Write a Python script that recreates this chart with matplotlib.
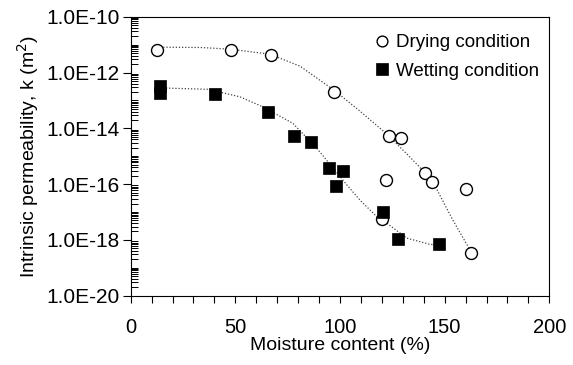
import numpy as np
import matplotlib
matplotlib.use("Agg")
import matplotlib.pyplot as plt
from matplotlib.ticker import FixedLocator, LogLocator, FuncFormatter, MultipleLocator, NullFormatter

plt.rcParams['font.family'] = ['Liberation Sans', 'DejaVu Sans']

# Data
dry_x = [12.4, 47.8, 66.9, 97.1, 123.4, 129.0, 121.8, 140.6, 143.8, 160.2, 119.9, 162.4]
dry_k = [6.4e-12, 6.4e-12, 4.3e-12, 2.0e-13, 5.4e-15, 4.4e-15, 1.4e-16, 2.6e-16, 1.2e-16, 6.5e-17, 5.5e-18, 3.5e-19]

wet_x = [14.0, 14.0, 40.3, 65.5, 78.2, 86.1, 94.9, 101.3, 97.9, 120.4, 127.6, 147.3]
wet_k = [3.2e-13, 1.8e-13, 1.7e-13, 3.7e-14, 5.4e-15, 3.2e-15, 3.7e-16, 3.0e-16, 8.5e-17, 9.8e-18, 1.1e-18, 6.9e-19]

# Trend lines
dry_fit_x = [12.6, 33.1, 47.4, 66.5, 80.9, 97.1, 109.5, 122.9, 133.4, 143.9, 153.9, 162.1]
dry_fit_logk = [-11.09, -11.10, -11.16, -11.34, -11.77, -12.63, -13.38, -14.24, -15.03, -15.85, -17.29, -18.36]

wet_fit_x = [13.9, 36.9, 52.2, 63.2, 77.5, 89.0, 96.2, 103.3, 109.5, 117.6, 122.5, 132.0, 142.9, 147.8]
wet_fit_logk = [-12.55, -12.60, -12.87, -13.23, -13.82, -14.72, -15.38, -16.03, -16.57, -17.17, -17.41, -17.94, -18.16, -18.18]

y_major = [1e-20, 1e-18, 1e-16, 1e-14, 1e-12, 1e-10]

fig = plt.figure(figsize=(5.73, 3.65), dpi=100)
ax = fig.add_axes([0.228, 0.190, 0.7307, 0.764])

line_kw = dict(color='#444444', linestyle=(0, (1, 1.5)), linewidth=0.9, zorder=1)
ax.plot(dry_fit_x, 10.0 ** np.array(dry_fit_logk), **line_kw)
ax.plot(wet_fit_x, 10.0 ** np.array(wet_fit_logk), **line_kw)

ax.plot(dry_x, dry_k, linestyle='none', marker='o', markersize=8.6,
        markerfacecolor='white', markeredgecolor='black', markeredgewidth=1.0,
        label='Drying condition', zorder=3)
ax.plot(wet_x, wet_k, linestyle='none', marker='s', markersize=9.2,
        markerfacecolor='black', markeredgecolor='black', markeredgewidth=0.5,
        label='Wetting condition', zorder=3)

ax.set_yscale('log')
ax.set_xlim(0, 200)
ax.set_ylim(1e-20, 1e-10)

ax.xaxis.set_major_locator(MultipleLocator(50))
ax.xaxis.set_minor_locator(MultipleLocator(10))
ax.yaxis.set_major_locator(FixedLocator(y_major))
ax.yaxis.set_minor_locator(LogLocator(base=10, subs=np.arange(1, 10), numticks=50))
ax.yaxis.set_minor_formatter(NullFormatter())

def fmt(v, pos):
    e = int(round(np.log10(v)))
    return "1.0E%d" % e
ax.yaxis.set_major_formatter(FuncFormatter(fmt))

ax.tick_params(axis='x', which='both', direction='out', length=5, width=0.8,
               labelsize=14.5, pad=11, top=False)
ax.tick_params(axis='y', which='major', direction='out', length=6, width=0.8,
               labelsize=15, pad=2, right=False)
ax.tick_params(axis='y', which='minor', direction='in', length=5, width=0.7, right=False)

for s in ax.spines.values():
    s.set_linewidth(0.8)

ax.set_xlabel('Moisture content (%)', fontsize=14, labelpad=0)
ax.set_ylabel('Intrinsic permeability, k (m$^2$)', fontsize=14, labelpad=4)

ax.legend(loc='upper right', bbox_to_anchor=(1.0, 0.975), frameon=False,
          fontsize=13.5, handlelength=0.8, handletextpad=0.35, labelspacing=0.6,
          borderaxespad=0.15, markerscale=0.9)

fig.savefig('out.png', dpi=100)
